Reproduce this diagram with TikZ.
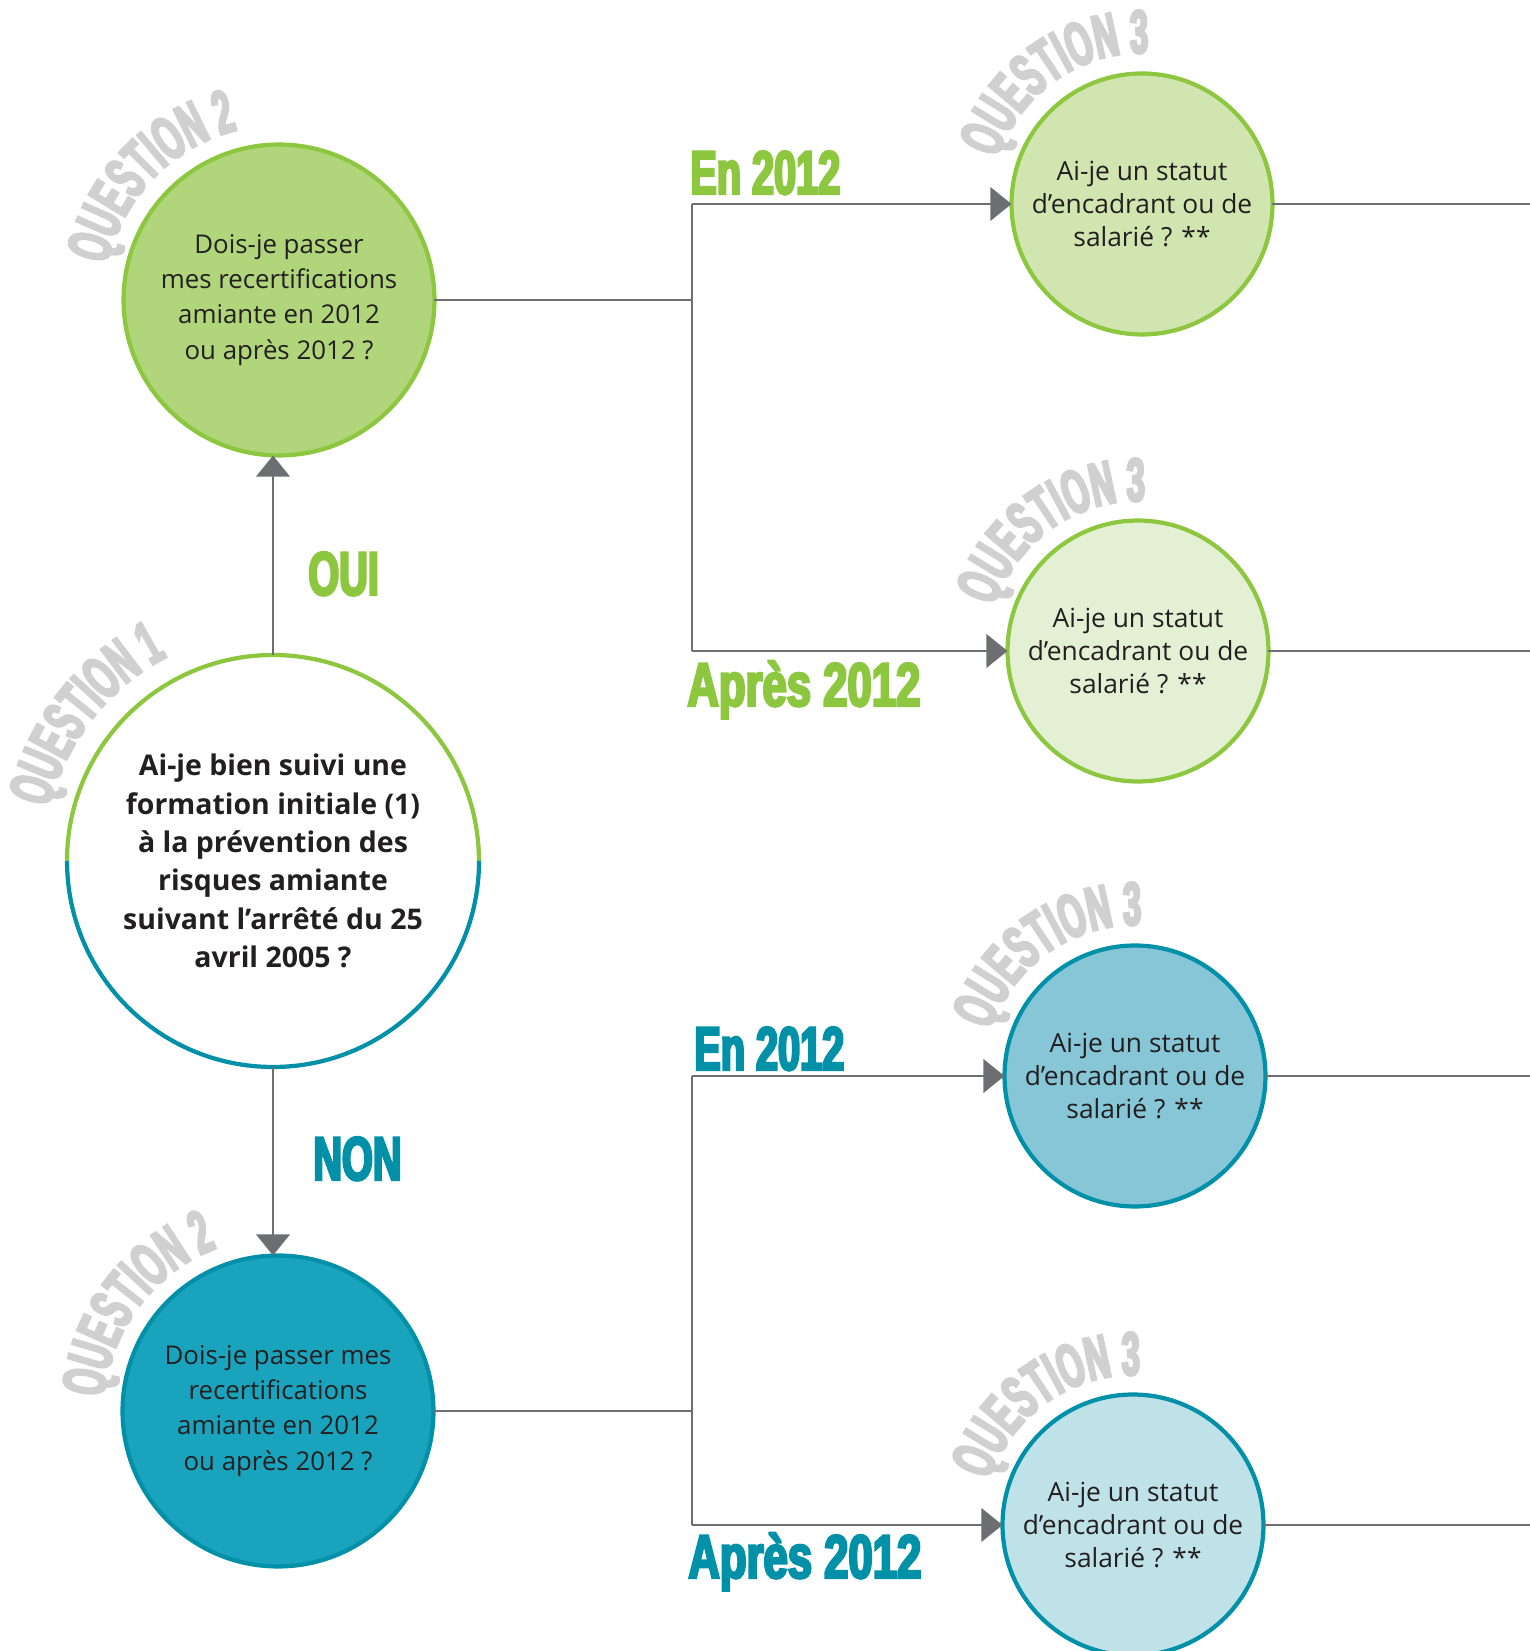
\documentclass[tikz,border=0pt]{standalone}
\usepackage{fontspec}
\setmainfont{Open Sans}
\newfontfamily\bigfont[FakeStretch=0.645,FakeBold=4]{Liberation Sans}
\newfontfamily\widefont[FakeStretch=0.71,FakeBold=4]{Liberation Sans}
\newfontfamily\arcfont[FakeStretch=0.53,FakeBold=4]{Liberation Sans}
\usetikzlibrary{shapes,arrows.meta,decorations.text}

\definecolor{vert}{HTML}{8DC63F}
\definecolor{vertfonce}{HTML}{B0D57B}
\definecolor{vertmoyen}{HTML}{D1E5B1}
\definecolor{vertclair}{HTML}{E3F0D4}
\definecolor{bleu}{HTML}{0090A8}
\definecolor{bleufonce}{HTML}{1AA3BC}
\definecolor{bleumoyen}{HTML}{86C6D7}
\definecolor{bleuclair}{HTML}{BFE1E8}
\definecolor{trait}{HTML}{6D6E71}
\definecolor{gris}{HTML}{D0D0D0}
\definecolor{encre}{HTML}{231F20}

\newcommand\qfont{\arcfont\bfseries\fontsize{35}{35}\selectfont}
\newcommand\labfont{\bigfont\bfseries\fontsize{35}{35}\selectfont}
\newcommand\wlabfont{\widefont\bfseries\fontsize{35}{35}\selectfont}

\begin{document}
\begin{tikzpicture}
	[
	x=0.02cm, y=0.02cm,
	bulle/.style = {circle, inner sep=0pt, outer sep=0pt, line width=2.4pt, align=center, text=encre},
	grande/.style = {bulle, minimum size=6.22cm, font=\fontsize{14.7}{20}\selectfont},
	petite/.style = {bulle, minimum size=5.22cm, font=\fontsize{15}{19}\selectfont},
	lien/.style = {draw=trait, line width=1.4pt},
	fleche/.style = {lien, -{Triangle[length=12pt, width=19pt]}},
	etiq/.style = {anchor=base west, inner sep=0pt, font=\labfont},
	qlabel/.style = {decorate, decoration={text along path, text align=center, text color=gris, text={|\qfont|#1}}}
	]
	
	\useasboundingbox (0,0) rectangle (1530,1651);
	
	% questions
	\node[bulle, fill=white, minimum size=8.24cm, font=\bfseries\fontsize{16.2}{21.8}\selectfont] (q1) at (273,790)
	{Ai-je bien suivi une\\formation initiale (1)\\à la prévention des\\risques amiante\\suivant l’arrêté du 25\\avril 2005~?};
	\draw[vert, line width=2.4pt] (q1.east) arc[start angle=0, end angle=180, radius=206];
	\draw[bleu, line width=2.4pt] (q1.west) arc[start angle=180, end angle=360, radius=206];
	
	\node[grande, draw=vert, fill=vertfonce] (q2oui) at (279,1351)
	{Dois-je passer\\mes recertifications\\amiante en 2012\\ou après 2012~?};
	\node[grande, draw=bleu, fill=bleufonce] (q2non) at (278,240)
	{Dois-je passer mes\\recertifications\\amiante en 2012\\ou après 2012~?};
	
	\node[petite, draw=vert, fill=vertmoyen] (q3a) at (1142,1447) {Ai-je un statut\\d’encadrant ou de\\salarié~? **};
	\node[petite, draw=vert, fill=vertclair] (q3b) at (1138,1000) {Ai-je un statut\\d’encadrant ou de\\salarié~? **};
	\node[petite, draw=bleu, fill=bleumoyen] (q3c) at (1135,575) {Ai-je un statut\\d’encadrant ou de\\salarié~? **};
	\node[petite, draw=bleu, fill=bleuclair] (q3d) at (1133,126) {Ai-je un statut\\d’encadrant ou de\\salarié~? **};
	
	% titres en arc
	\path[qlabel=QUESTION 1] ([shift={(202:230)}]q1.center) arc[start angle=202, end angle=82, radius=230];
	\path[qlabel=QUESTION 2] ([shift={(196:175)}]q2oui.center) arc[start angle=196, end angle=76, radius=175];
	\path[qlabel=QUESTION 2] ([shift={(203:174)}]q2non.center) arc[start angle=203, end angle=83, radius=174];
	\path[qlabel=QUESTION 3] ([shift={(185:151)}]q3a.center) arc[start angle=185, end angle=65, radius=151];
	\path[qlabel=QUESTION 3] ([shift={(185:150)}]q3b.center) arc[start angle=185, end angle=65, radius=150];
	\path[qlabel=QUESTION 3] ([shift={(185:151)}]q3c.center) arc[start angle=185, end angle=65, radius=151];
	\path[qlabel=QUESTION 3] ([shift={(185:150)}]q3d.center) arc[start angle=185, end angle=65, radius=150];
	
	% liaisons
	\coordinate (jOui) at (692,1351);
	\coordinate (jNon) at (692,240);
	\coordinate (bord) at (1530,0);
	
	\draw[fleche] (q1.north) -- (q1.north |- q2oui.south);
	\draw[fleche] (q1.south) -- (q1.south |- q2non.north);
	
	\draw[lien] (q2oui) -- (jOui);
	\draw[lien] (jOui |- q3a) -- (jOui |- q3b);
	\draw[fleche] (jOui |- q3a) -- (q3a);
	\draw[fleche] (jOui |- q3b) -- (q3b);
	
	\draw[lien] (q2non) -- (jNon);
	\draw[lien] (jNon |- q3c) -- (jNon |- q3d);
	\draw[fleche] (jNon |- q3c) -- (q3c);
	\draw[fleche] (jNon |- q3d) -- (q3d);
	
	\draw[lien] (q3a) -- (q3a -| bord);
	\draw[lien] (q3b) -- (q3b -| bord);
	\draw[lien] (q3c) -- (q3c -| bord);
	\draw[lien] (q3d) -- (q3d -| bord);
	
	% reponses
	\node[etiq, text=vert] (oui) at (308,1056) {OUI};
	\node[etiq, text=bleu] (non) at (313,471) {NON};
	\node[etiq, text=vert] (en1) at (690,1457) {En 2012};
	\node[etiq, text=vert, font=\wlabfont] (apres1) at (687,945) {Après 2012};
	\node[etiq, text=bleu] (en2) at (694,581) {En 2012};
	\node[etiq, text=bleu, font=\wlabfont] (apres2) at (688,73) {Après 2012};
	
\end{tikzpicture}
\end{document}
